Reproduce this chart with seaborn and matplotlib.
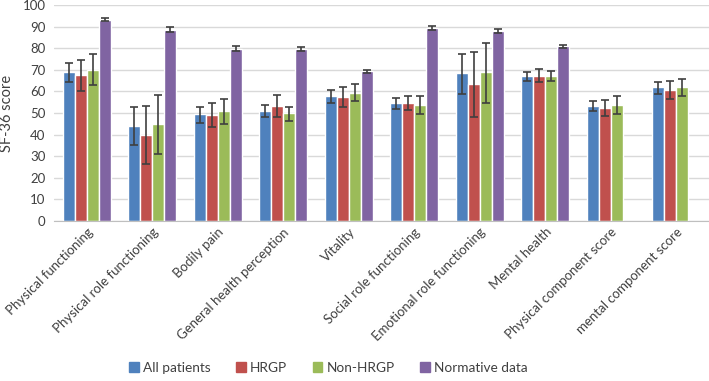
import numpy as np
import pandas as pd
import seaborn as sns
import matplotlib.pyplot as plt

# categories and groups
domains = ['Physical functioning', 'Physical role functioning', 'Bodily pain',
           'General health perception', 'Vitality', 'Social role functioning',
           'Emotional role functioning', 'Mental health', 'Physical component score',
           'mental component score']
groups = ['All patients', 'HRGP', 'Non-HRGP', 'Normative data']

# mean scores
all_patients = [68.9, 43.9, 49.4, 50.9, 57.8, 54.4, 68.6, 67.0, 53.2, 61.8]
hrgp = [67.5, 39.8, 48.9, 53.2, 57.5, 54.6, 63.3, 67.3, 52.4, 60.7]
non_hrgp = [70.1, 44.8, 50.9, 49.8, 59.2, 53.5, 68.9, 67.0, 53.9, 62.1]
normative = [93.2, 88.6, 79.8, 79.6, 69.3, 89.5, 87.9, 80.9, np.nan, np.nan]

# error bar ends (lower, upper)
all_lo = [64.2, 35.1, 45.5, 48.2, 54.8, 51.7, 58.9, 64.9, 50.8, 58.9]
all_hi = [73.2, 52.8, 52.8, 53.5, 60.5, 56.9, 77.5, 68.9, 55.7, 64.5]
hrgp_lo = [60.2, 26.2, 43.4, 48.2, 52.8, 51.2, 48.2, 64.5, 48.8, 56.5]
hrgp_hi = [74.6, 53.2, 54.5, 58.2, 62.2, 57.7, 78.3, 70.2, 56.0, 64.9]
non_lo = [62.9, 30.9, 45.1, 46.2, 55.4, 49.4, 54.8, 64.6, 49.7, 58.0]
non_hi = [77.1, 58.5, 56.5, 52.9, 63.2, 57.7, 82.6, 69.5, 57.8, 65.8]
norm_lo = [92.8, 87.4, 78.5, 78.8, 68.5, 88.6, 86.9, 80.2, np.nan, np.nan]
norm_hi = [93.8, 89.7, 80.8, 80.5, 70.0, 90.2, 88.8, 81.5, np.nan, np.nan]

means = [all_patients, hrgp, non_hrgp, normative]
lows = [all_lo, hrgp_lo, non_lo, norm_lo]
highs = [all_hi, hrgp_hi, non_hi, norm_hi]
colors = ['#4F81BD', '#C0504D', '#9BBB59', '#8064A2']

rows = []
for g, vals in zip(groups, means):
    for d, v in zip(domains, vals):
        rows.append({'domain': d, 'group': g, 'score': v})
df = pd.DataFrame(rows)

sns.set_style('white')
plt.rcParams['font.family'] = ['Lato', 'DejaVu Sans']

fig = plt.figure(figsize=(7.09, 3.81), dpi=100)
ax = fig.add_axes([0.076, 0.42, 0.924, 0.567])

width = 0.73
sns.barplot(data=df, x='domain', y='score', hue='group', order=domains,
            hue_order=groups, palette=colors, width=width, saturation=1,
            errorbar=None, ax=ax, zorder=2, legend=False)

# error bars, centred on each dodged bar
n = len(groups)
bw = width / n
for j in range(n):
    x = np.arange(len(domains)) + (j - (n - 1) / 2) * bw
    m = np.array(means[j])
    lo = m - np.array(lows[j])
    hi = np.array(highs[j]) - m
    ok = ~np.isnan(m)
    ax.errorbar(x[ok], m[ok], yerr=[lo[ok], hi[ok]], fmt='none',
                ecolor='#3f3f3f', elinewidth=1.2, capsize=3.2, capthick=1.2, zorder=3)

ax.set_xlim(-0.5, len(domains) - 0.5)
ax.set_ylim(0, 100)
ax.set_yticks(range(0, 101, 10))
ax.yaxis.grid(True, color='#d9d9d9', linewidth=1, zorder=0)
ax.set_axisbelow(True)
for s in ['top', 'right', 'left']:
    ax.spines[s].set_visible(False)
ax.spines['bottom'].set_color('#bfbfbf')
ax.tick_params(axis='both', length=0, colors='#404040', labelsize=9.5)
ax.tick_params(axis='y', pad=6)
ax.set_xticks(range(len(domains)))
ax.set_xticklabels(domains, rotation=45, ha='right', rotation_mode='anchor')
ax.set_xlabel('')
ax.set_ylabel('SF-36 score', fontsize=10.5, color='#404040', labelpad=6)

handles = [plt.Rectangle((0, 0), 1, 1, color=c) for c in colors]
fig.legend(handles, groups, loc='center', bbox_to_anchor=(0.463, 0.035), ncol=4,
           frameon=False, fontsize=9.8, handlelength=0.7, handleheight=0.7,
           handletextpad=0.3, columnspacing=1.9, labelcolor='#404040')

fig.savefig('out.png', dpi=100)
